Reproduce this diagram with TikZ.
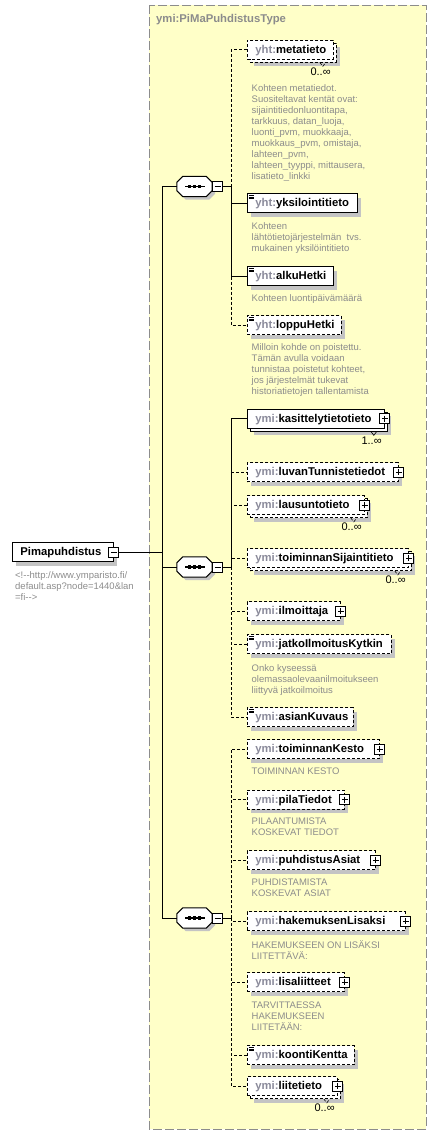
\documentclass[tikz,border=0pt]{standalone}
\usepackage{fontspec}
\setmainfont{Liberation Sans}
\usepackage{tikz}
\usetikzlibrary{positioning}
\usetikzlibrary{shadows}
\definecolor{typebg}{HTML}{FFFFC8}
\definecolor{typeborder}{HTML}{8C8C8C}
\definecolor{nsgray}{HTML}{8A8A9A}
\definecolor{docgray}{HTML}{8C8C8C}
\definecolor{shadowgray}{HTML}{C4C4C4}
\newcommand{\pfx}[1]{\textcolor{nsgray}{#1}}
% octagon of a sequence compositor, drawn round a named node
\newcommand{\octpath}[1]{([xshift=6pt]#1.north west) -- ([xshift=-6pt]#1.north east)
  -- ([yshift=-6pt]#1.north east) -- ([yshift=6pt]#1.south east)
  -- ([xshift=-6pt]#1.south east) -- ([xshift=6pt]#1.south west)
  -- ([yshift=6pt]#1.south west) -- ([yshift=-6pt]#1.north west) -- cycle}
\newcommand{\seqsym}[1]{%
  \fill[shadowgray, transform canvas={shift={(3pt,-3pt)}}] \octpath{#1};
  \draw[line width=1pt, fill=white] \octpath{#1};
  \fill ([shift={(-10pt,-0.6pt)}]#1.center) rectangle ([shift={(10pt,0.6pt)}]#1.center);
  \foreach \d in {-5pt,0pt,5pt}
    \fill ([xshift=\d]#1.center) +(-1.8pt,-1.8pt) rectangle +(1.8pt,1.8pt);}
\tikzset{
  conn/.style = {line width=0.8pt},
  opt/.style = {dash pattern=on 3pt off 2pt},
  typebox/.style = {fill=typebg, draw=typeborder, line width=1pt,
    dash pattern=on 9pt off 3pt},
  title/.style = {anchor=base west, inner sep=0pt, text=docgray,
    font=\fontsize{11.3}{13}\selectfont\bfseries},
  elbox/.style = {draw, fill=white, line width=0.8pt, anchor=west,
    minimum height=19pt, inner xsep=8pt, inner ysep=0pt,
    text height=8.5pt, text depth=1.5pt, align=left,
    font=\fontsize{11.3}{13}\selectfont\bfseries},
  el/.style = {drop shadow={shadow xshift=4pt, shadow yshift=-4pt,
    fill=shadowgray, opacity=1}, elbox},
  many/.style = {drop shadow={shadow xshift=7pt, shadow yshift=-7pt,
    fill=shadowgray, opacity=1},
    copy shadow={shadow xshift=3pt, shadow yshift=-3pt, draw=black,
    fill=white, #1}, elbox},
  many/.default = {},
  simple/.style = {path picture={
    \foreach \k in {2pt,3.5pt,5pt}
      \draw[line width=0.6pt, solid]
        ([shift={(1.5pt,-\k)}]path picture bounding box.north west) -- ++(5pt,0pt);}},
  pm/.style = {draw, fill=white, solid, line width=0.8pt, minimum size=10pt,
    inner sep=0pt},
  minus/.style = {pm, path picture={
    \draw[line width=0.8pt] ([xshift=2pt]path picture bounding box.west)
      -- ([xshift=-2pt]path picture bounding box.east);}},
  plus/.style = {pm, path picture={
    \draw[line width=0.8pt] ([xshift=2pt]path picture bounding box.west)
      -- ([xshift=-2pt]path picture bounding box.east)
      ([yshift=-2pt]path picture bounding box.north)
      -- ([yshift=2pt]path picture bounding box.south);}},
  seq/.style = {minimum width=35pt, minimum height=20pt, inner sep=0pt},
  mult/.style = {anchor=base east, inner sep=0pt,
    font=\fontsize{11}{13}\selectfont},
  notch/.style = {line width=0.6pt},
  doc/.style = {anchor=north west, align=left, inner sep=0pt, text=docgray,
    font=\fontsize{9.5}{11}\selectfont},
}

\begin{document}
\begin{tikzpicture}[x=1pt, y=-1pt]
  \useasboundingbox (0,0) rectangle (437,1135);
  % complex type
  \draw[typebox] (149,5) rectangle (426,1129);
  \node[title] (type) at (156,23) {ymi:PiMaPuhdistusType};

  % root element
  \node[el, text width=85pt] (root) at (12,552) {Pimapuhdistus};
  \node[minus] (root-m) at (root.east) {};
  \node[doc] (root-d) at (15,571.5)
    {<!-{}-http://www.ymparisto.fi/\\default.asp?node=1440\&lan\\=fi-{}->};

  % sequences
  \coordinate (trunk) at (162,552);
  \node[seq] (seq1) at (194.5,186.5) {};
  \seqsym{seq1}
  \node[minus, right=0pt of seq1] (seq1-m) {};
  \node[seq] (seq2) at (194.5,567) {};
  \seqsym{seq2}
  \node[minus, right=0pt of seq2] (seq2-m) {};
  \node[seq] (seq3) at (194.5,918) {};
  \seqsym{seq3}
  \node[minus, right=0pt of seq3] (seq3-m) {};
  \coordinate (j1) at (231,186.5);
  \coordinate (j2) at (231,567);
  \coordinate (j3) at (231,918);
  \draw[conn] (root-m.east) -- (trunk);
  \draw[conn] (trunk) |- (seq1.west);
  \draw[conn] (trunk) |- (seq2.west);
  \draw[conn] (trunk) |- (seq3.west);
  \draw[conn] (seq1-m.east) -- (j1);
  \draw[conn] (seq2-m.east) -- (j2);
  \draw[conn] (seq3-m.east) -- (j3);

  % first sequence
  \node[many=opt, opt, text width=70pt] (meta) at (247,49.5) {\pfx{yht:}metatieto};
  \draw[notch, opt] ([shift={(-14pt,-3pt)}]meta.south east) -- ++(3pt,-4pt) -- ++(3pt,4pt);
  \node[mult] (meta-n) at ([shift={(-3pt,-16pt)}]meta.south east) {0..∞};
  \node[doc] (meta-d) at (251.5,84.5) {Kohteen metatiedot.\\Suositeltavat kentät ovat:\\
    sijaintitiedonluontitapa,\\tarkkuus, datan\_luoja,\\luonti\_pvm, muokkaaja,\\
    muokkaus\_pvm, omistaja,\\lahteen\_pvm,\\lahteen\_tyyppi, mittausera,\\lisatieto\_linkki};
  \node[el, simple, text width=94pt] (yks) at (247,203) {\pfx{yht:}yksilointitieto};
  \node[doc] (yks-d) at (251.5,222.5) {Kohteen\\lähtötietojärjestelmän\ \ tvs.\\mukainen yksilöintitieto};
  \node[el, simple, text width=70pt] (alku) at (247,276) {\pfx{yht:}alkuHetki};
  \node[doc] (alku-d) at (251.5,294.5) {Kohteen luontipäivämäärä};
  \node[el, opt, simple, text width=78pt] (loppu) at (247,325) {\pfx{yht:}loppuHetki};
  \node[doc] (loppu-d) at (251.5,343.5) {Milloin kohde on poistettu.\\Tämän avulla voidaan\\
    tunnistaa poistetut kohteet,\\jos järjestelmät tukevat\\historiatietojen tallentamista};
  \draw[conn, opt] (j1) |- (meta.west);
  \draw[conn] (j1) |- (yks.west);
  \draw[conn] (j1) |- (alku.west);
  \draw[conn, opt] (j1) |- (loppu.west);

  % second sequence
  \node[many, text width=121pt] (kas) at (247,418.5) {\pfx{ymi:}kasittelytietotieto};
  \node[plus] (kas-p) at (kas.east) {};
  \draw[notch] ([shift={(-14pt,-3pt)}]kas.south east) -- ++(3pt,-4pt) -- ++(3pt,4pt);
  \node[mult] (kas-n) at ([shift={(-3pt,-16pt)}]kas.south east) {1..∞};
  \node[el, opt, text width=135pt] (luvan) at (247,472) {\pfx{ymi:}luvanTunnistetiedot};
  \node[plus] (luvan-p) at (luvan.east) {};
  \node[many=opt, opt, text width=101pt] (laus) at (247,505) {\pfx{ymi:}lausuntotieto};
  \node[plus] (laus-p) at (laus.east) {};
  \draw[notch, opt] ([shift={(-14pt,-3pt)}]laus.south east) -- ++(3pt,-4pt) -- ++(3pt,4pt);
  \node[mult] (laus-n) at ([shift={(-3pt,-16pt)}]laus.south east) {0..∞};
  \node[many=opt, opt, text width=145pt] (sij) at (247,558) {\pfx{ymi:}toiminnanSijaintitieto};
  \node[plus] (sij-p) at (sij.east) {};
  \draw[notch, opt] ([shift={(-14pt,-3pt)}]sij.south east) -- ++(3pt,-4pt) -- ++(3pt,4pt);
  \node[mult] (sij-n) at ([shift={(-3pt,-16pt)}]sij.south east) {0..∞};
  \node[el, opt, text width=77pt] (ilm) at (247,611) {\pfx{ymi:}ilmoittaja};
  \node[plus] (ilm-p) at (ilm.east) {};
  \node[el, opt, simple, text width=128pt] (jatko) at (247,644) {\pfx{ymi:}jatkoIlmoitusKytkin};
  \node[doc] (jatko-d) at (251.5,664) {Onko kyseessä\\olemassaolevaanilmoitukseen\\liittyvä jatkoilmoitus};
  \node[el, opt, simple, text width=90pt] (asian) at (247,717) {\pfx{ymi:}asianKuvaus};
  \draw[conn] (j2) |- (kas.west);
  \draw[conn, opt] (j2) |- (luvan.west);
  \draw[conn, opt] (j2) |- (laus.west);
  \draw[conn, opt] (j2) |- (sij.west);
  \draw[conn, opt] (j2) |- (ilm.west);
  \draw[conn, opt] (j2) |- (jatko.west);
  \draw[conn, opt] (j2) |- (asian.west);

  % third sequence
  \node[el, opt, text width=116pt] (kesto) at (247,749) {\pfx{ymi:}toiminnanKesto};
  \node[plus] (kesto-p) at (kesto.east) {};
  \node[doc] (kesto-d) at (251.5,768) {TOIMINNAN KESTO};
  \node[el, opt, text width=81pt] (pila) at (247,799.5) {\pfx{ymi:}pilaTiedot};
  \node[plus] (pila-p) at (pila.east) {};
  \node[doc] (pila-d) at (251.5,817.5) {PILAANTUMISTA\\KOSKEVAT TIEDOT};
  \node[el, opt, text width=112pt] (puhd) at (247,860) {\pfx{ymi:}puhdistusAsiat};
  \node[plus] (puhd-p) at (puhd.east) {};
  \node[doc] (puhd-d) at (251.5,879) {PUHDISTAMISTA\\KOSKEVAT ASIAT};
  \node[el, opt, text width=142pt] (hake) at (247,921) {\pfx{ymi:}hakemuksenLisaksi};
  \node[plus] (hake-p) at (hake.east) {};
  \node[doc] (hake-d) at (251.5,940.5) {HAKEMUKSEEN ON LISÄKSI\\LIITETTÄVÄ:};
  \node[el, opt, text width=81pt] (lisa) at (247,982) {\pfx{ymi:}lisaliitteet};
  \node[plus] (lisa-p) at (lisa.east) {};
  \node[doc] (lisa-d) at (251.5,1001.5) {TARVITTAESSA\\HAKEMUKSEEN\\LIITETÄÄN:};
  \node[el, opt, simple, text width=91pt] (koonti) at (247,1055) {\pfx{ymi:}koontiKentta};
  \node[many=opt, opt, text width=74pt] (liite) at (247,1086) {\pfx{ymi:}liitetieto};
  \node[plus] (liite-p) at (liite.east) {};
  \draw[notch, opt] ([shift={(-14pt,-3pt)}]liite.south east) -- ++(3pt,-4pt) -- ++(3pt,4pt);
  \node[mult] (liite-n) at ([shift={(-3pt,-16pt)}]liite.south east) {0..∞};
  \draw[conn, opt] (j3) |- (kesto.west);
  \draw[conn, opt] (j3) |- (pila.west);
  \draw[conn, opt] (j3) |- (puhd.west);
  \draw[conn, opt] (j3) |- (hake.west);
  \draw[conn, opt] (j3) |- (lisa.west);
  \draw[conn, opt] (j3) |- (koonti.west);
  \draw[conn, opt] (j3) |- (liite.west);
\end{tikzpicture}
\end{document}
